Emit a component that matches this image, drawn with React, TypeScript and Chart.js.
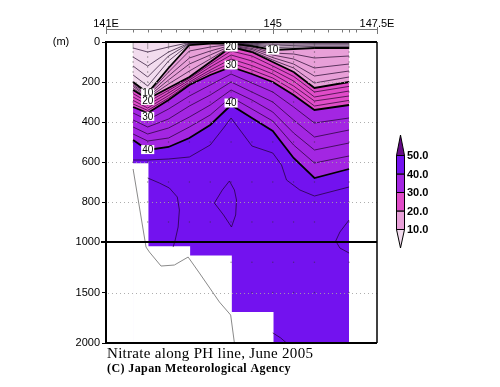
import React, { useEffect, useRef } from 'react';
import { Chart, registerables } from 'chart.js';

Chart.register(...registerables);

// ---------------- DATA ----------------
// station longitudes (deg E) of the PH line
const stationLon = [141.65, 142, 142.5, 143, 143.5, 144, 144.5, 145, 145.5, 146, 146.83];

// depth (m) of each nitrate isoline (umol/kg) at every station
const surfaceDepth = [0, 0, 0, 0, 0, 0, 0, 0, 0, 0, 0];
const iso2 = [30, 50, 25, 3, 2, 2, 3, 5, 4, 4, 4];
const iso4 = [75, 120, 50, 5, 3, 3, 6, 12, 10, 9, 9];
const iso6 = [120, 175, 70, 7, 4, 4, 10, 20, 17, 15, 15];
const iso8 = [165, 220, 95, 10, 6, 6, 14, 28, 25, 22, 22];
const iso10 = [200, 255, 130, 15, 8, 8, 20, 40, 35, 30, 30];
const iso12 = [208, 260, 150, 45, 25, 12, 25, 55, 60, 80, 70];
const iso14 = [215, 268, 170, 80, 45, 16, 32, 65, 85, 130, 110];
const iso16 = [222, 275, 190, 110, 65, 19, 38, 78, 110, 170, 145];
const iso18 = [232, 280, 210, 145, 85, 22, 45, 90, 130, 205, 175];
const iso20 = [240, 285, 230, 175, 100, 25, 50, 100, 150, 230, 200];
const iso22 = [258, 300, 242, 182, 112, 45, 70, 120, 172, 250, 222];
const iso24 = [275, 315, 255, 190, 125, 65, 95, 140, 195, 275, 245];
const iso26 = [292, 330, 268, 200, 140, 85, 118, 160, 220, 295, 270];
const iso28 = [310, 342, 280, 208, 152, 105, 140, 180, 242, 320, 292];
const iso30 = [325, 355, 290, 215, 165, 125, 160, 200, 265, 340, 315];
const iso32 = [355, 390, 335, 270, 215, 160, 205, 250, 325, 405, 380];
const iso34 = [390, 425, 385, 320, 265, 200, 250, 300, 390, 475, 440];
const iso36 = [425, 460, 430, 375, 315, 240, 290, 350, 455, 540, 505];
const iso38 = [460, 495, 480, 425, 365, 275, 335, 395, 515, 605, 570];
const iso40 = [490, 540, 525, 480, 415, 315, 380, 445, 580, 680, 635];

// deeper, irregular isolines: [lon, depth]
const deep42 = [[141.65, 590], [142, 590], [142.5, 585], [143, 575], [143.5, 515], [143.82, 430], [144, 380], [144.5, 520], [145, 555], [145.21, 615], [145.33, 690], [145.65, 740], [146, 770], [146.83, 725]];
const deep44a = [[142, 680], [142.28, 705], [142.52, 730], [142.71, 775], [142.76, 840], [142.73, 925], [142.66, 990], [142.61, 1050]];
const deep44b = [[143.6, 805], [143.79, 740], [143.96, 695], [144.08, 740], [144.13, 790], [144.11, 865], [144.01, 925], [143.82, 865], [143.6, 805]];
const deep44c = [[146.83, 890], [146.61, 950], [146.51, 995], [146.61, 1060], [146.83, 1109]];
const deep44d = [[145, 1900], [145.19, 1950], [145.33, 2000]];

// sea-bottom profile [lon, depth]
const bottomProfile = [[141.65, 635], [141.96, 1050], [142.04, 1099], [142.32, 1238], [142.64, 1228], [142.97, 1149], [143.24, 1307], [143.72, 1594], [143.99, 1723], [144.08, 2000]];

// deepest valid data in each longitude interval
const maskLon = [141.65, 142, 143, 144, 145, 146.83];
const maskBottom = [610, 1050, 1140, 1700, 2000];

// sampling depths and deepest sample of each station
const sampleDepths = [0, 10, 20, 30, 50, 75, 100, 125, 150, 200, 250, 300, 400, 500, 600, 700, 800, 900, 1000, 1200, 1500, 2000];
const stationBottom = [600, 1000, 1050, 1100, 1140, 1200, 1700, 2000, 2000, 2000, 2000];

const contourLabels = [
  { lon: 142, depth: 255, text: '10' },
  { lon: 142, depth: 292, text: '20' },
  { lon: 142, depth: 372, text: '30' },
  { lon: 142, depth: 538, text: '40' },
  { lon: 144, depth: 25, text: '20' },
  { lon: 144, depth: 115, text: '30' },
  { lon: 144, depth: 305, text: '40' },
  { lon: 145, depth: 40, text: '10' },
];

const depthTicks = [0, 200, 400, 600, 800, 1000, 1500, 2000];
const gridDepths = [200, 400, 600, 800, 1500];
const colorLevels = ['10.0', '20.0', '30.0', '40.0', '50.0'];
const bandColors = ['#f2dcee', '#e8a0d8', '#e04cc8', '#a326e2', '#7312ef'];
const overColor = '#660a88';

const topAxisMajor = [141, 145, 147.5];
const topAxisLabels = ['141E', '145', '147.5E'];
const topAxisMinor = [141.65, 142, 142.33, 142.67, 143, 143.33, 143.67, 144, 144.33, 144.67, 145.33, 145.67, 146, 146.33, 146.67, 146.83, 147];

const titleText = 'Nitrate along PH line, June 2005';
const creditText = '(C) Japan Meteorological Agency';

// ---------------- helpers ----------------
const toY = (d: number) => (d <= 1000 ? d : 1000 + (d - 1000) * 0.505);
const fromY = (v: number) => Math.round(v <= 1000 ? v : 1000 + (v - 1000) / 0.505);
const Y_MAX = toY(2000);

const stationPts = (depths: number[]) => depths.map((d, i) => ({ x: stationLon[i], y: toY(d) }));
const pairPts = (arr: number[][]) => arr.map(([lon, d]) => ({ x: lon, y: toY(d) }));

const SANS = '"Liberation Sans", Arial, sans-serif';
const SERIF = '"Liberation Serif", "Times New Roman", serif';

function buildDatasets() {
  const ds: any[] = [];
  const bands = [surfaceDepth, iso10, iso20, iso30, iso40];
  bands.forEach((depths, i) => {
    ds.push({
      data: stationPts(depths),
      borderWidth: 0,
      borderColor: 'transparent',
      backgroundColor: bandColors[i],
      fill: { value: Y_MAX },
      pointRadius: 0,
      order: 100 - i,
    });
  });
  const maskPts: number[][] = [[maskLon[0], 2000]];
  maskBottom.forEach((b, i) => {
    maskPts.push([maskLon[i], b]);
    maskPts.push([maskLon[i + 1], b]);
  });
  ds.push({
    data: pairPts(maskPts),
    borderWidth: 1.5,
    borderColor: '#ffffff',
    backgroundColor: '#ffffff',
    fill: { value: Y_MAX },
    pointRadius: 0,
    order: 60,
  });
  const thin = [iso2, iso4, iso6, iso8, iso12, iso14, iso16, iso18, iso22, iso24, iso26, iso28, iso32, iso34, iso36, iso38];
  thin.forEach((depths) => {
    ds.push({ data: stationPts(depths), borderWidth: 0.8, borderColor: 'rgba(25,0,35,0.85)', fill: false, pointRadius: 0, order: 30 });
  });
  [deep42, deep44a, deep44b, deep44c, deep44d].forEach((arr) => {
    ds.push({ data: pairPts(arr), borderWidth: 0.8, borderColor: 'rgba(25,0,35,0.85)', fill: false, pointRadius: 0, order: 30 });
  });
  [iso10, iso20, iso30, iso40].forEach((depths) => {
    ds.push({ data: stationPts(depths), borderWidth: 1.8, borderColor: '#000', fill: false, pointRadius: 0, order: 20 });
  });
  ds.push({ data: pairPts(bottomProfile), borderWidth: 1, borderColor: '#8a8a8a', fill: false, pointRadius: 0, order: 15 });
  const samples: { x: number; y: number }[] = [];
  stationLon.forEach((lon, i) => {
    sampleDepths.forEach((d) => {
      if (d <= stationBottom[i]) samples.push({ x: lon, y: toY(d) });
    });
  });
  ds.push({ data: samples, showLine: false, pointRadius: 0.7, pointBorderWidth: 0, pointBackgroundColor: 'rgba(50,50,50,0.55)', order: 10 });
  return ds;
}

const overlayPlugin = {
  id: 'overlay',
  afterDatasetsDraw(chart: any) {
    const { ctx, chartArea: ca, scales } = chart;
    const px = (lon: number) => scales.x.getPixelForValue(lon);
    const py = (d: number) => scales.y.getPixelForValue(toY(d));
    ctx.save();
    ctx.strokeStyle = 'rgba(165,165,165,0.9)';
    ctx.lineWidth = 1;
    ctx.setLineDash([1, 3]);
    gridDepths.forEach((d) => {
      const yy = Math.round(py(d)) + 0.5;
      ctx.beginPath();
      ctx.moveTo(ca.left + 2, yy);
      ctx.lineTo(ca.right, yy);
      ctx.stroke();
    });
    ctx.setLineDash([]);
    ctx.font = `10px ${SANS}`;
    ctx.textAlign = 'center';
    ctx.textBaseline = 'middle';
    contourLabels.forEach((l) => {
      const x = px(l.lon);
      const y = py(l.depth);
      const w = ctx.measureText(l.text).width + 2;
      ctx.fillStyle = '#fff';
      ctx.fillRect(x - w / 2, y - 4.5, w, 9);
      ctx.fillStyle = '#000';
      ctx.fillText(l.text, x, y + 0.5);
    });
    ctx.restore();
  },
  afterDraw(chart: any) {
    const { ctx, chartArea: ca, scales } = chart;
    const px = (lon: number) => scales.x.getPixelForValue(lon);
    const py = (d: number) => scales.y.getPixelForValue(toY(d));
    ctx.save();
    ctx.strokeStyle = '#000';
    // 1000 m line
    ctx.lineWidth = 2;
    ctx.beginPath();
    ctx.moveTo(ca.left - 5, py(1000));
    ctx.lineTo(ca.right, py(1000));
    ctx.stroke();
    // frame
    ctx.beginPath();
    ctx.moveTo(ca.left, ca.top);
    ctx.lineTo(ca.right, ca.top);
    ctx.moveTo(ca.left, ca.bottom);
    ctx.lineTo(ca.right, ca.bottom);
    ctx.stroke();
    ctx.lineWidth = 1.5;
    ctx.beginPath();
    ctx.moveTo(ca.right, ca.top);
    ctx.lineTo(ca.right, ca.bottom);
    ctx.stroke();

    // top longitude axis
    const by = ca.top - 13;
    ctx.strokeStyle = '#777';
    ctx.lineWidth = 1;
    ctx.beginPath();
    ctx.moveTo(px(topAxisMajor[0]), by + 0.5);
    ctx.lineTo(px(topAxisMajor[topAxisMajor.length - 1]), by + 0.5);
    topAxisMajor.forEach((lon) => {
      const x = Math.round(px(lon)) + 0.5;
      ctx.moveTo(x, by - 2);
      ctx.lineTo(x, by + 5);
    });
    topAxisMinor.forEach((lon) => {
      const x = Math.round(px(lon)) + 0.5;
      ctx.moveTo(x, by);
      ctx.lineTo(x, by + 3.5);
    });
    ctx.stroke();
    ctx.fillStyle = '#000';
    ctx.font = `11px ${SANS}`;
    ctx.textAlign = 'center';
    ctx.textBaseline = 'alphabetic';
    topAxisMajor.forEach((lon, i) => ctx.fillText(topAxisLabels[i], px(lon), by - 2));

    // unit label
    ctx.textBaseline = 'middle';
    ctx.fillText('(m)', 61, ca.top);

    // colour bar
    const cbL = 396;
    const cbW = 8;
    const cbBottom = 229;
    const step = 18.5;
    const yAt = (i: number) => cbBottom - i * step;
    ctx.strokeStyle = '#000';
    ctx.lineWidth = 1;
    for (let i = 0; i < colorLevels.length - 1; i++) {
      ctx.fillStyle = bandColors[i + 1];
      ctx.fillRect(cbL, yAt(i + 1), cbW, step);
      ctx.strokeRect(cbL + 0.5, yAt(i + 1) + 0.5, cbW, step);
    }
    // lower triangle
    ctx.fillStyle = bandColors[0];
    ctx.beginPath();
    ctx.moveTo(cbL + 0.5, cbBottom + 0.5);
    ctx.lineTo(cbL + cbW + 0.5, cbBottom + 0.5);
    ctx.lineTo(cbL + cbW / 2 + 0.5, cbBottom + 19);
    ctx.closePath();
    ctx.fill();
    ctx.stroke();
    // upper triangle
    const topY = yAt(colorLevels.length - 1);
    ctx.fillStyle = overColor;
    ctx.beginPath();
    ctx.moveTo(cbL + 0.5, topY + 0.5);
    ctx.lineTo(cbL + cbW + 0.5, topY + 0.5);
    ctx.lineTo(cbL + cbW / 2 + 0.5, topY - 20);
    ctx.closePath();
    ctx.fill();
    ctx.stroke();
    ctx.fillStyle = '#000';
    ctx.font = `bold 11px ${SANS}`;
    ctx.textAlign = 'left';
    ctx.textBaseline = 'middle';
    colorLevels.forEach((t, i) => ctx.fillText(t, cbL + cbW + 3, yAt(i) + 1));

    // caption
    ctx.textBaseline = 'alphabetic';
    ctx.font = `15px ${SERIF}`;
    (ctx as any).letterSpacing = '0.3px';
    ctx.fillText(titleText, ca.left + 1, 358);
    ctx.font = `bold 12px ${SERIF}`;
    (ctx as any).letterSpacing = '0.4px';
    ctx.fillText(creditText, ca.left + 1, 372);
    (ctx as any).letterSpacing = '0px';
    ctx.restore();
  },
};

export default function App() {
  const canvasRef = useRef<HTMLCanvasElement | null>(null);
  useEffect(() => {
    if (!canvasRef.current) return;
    const chart = new Chart(canvasRef.current, {
      type: 'line',
      data: { datasets: buildDatasets() },
      options: {
        animation: false,
        responsive: false,
        events: [],
        layout: { padding: { top: 42, right: 123, bottom: 44, left: 0 } },
        plugins: { legend: { display: false }, tooltip: { enabled: false } },
        elements: { line: { tension: 0 } },
        scales: {
          x: { type: 'linear', min: 141, max: 147.5, display: false },
          y: {
            type: 'linear',
            reverse: true,
            min: 0,
            max: Y_MAX,
            afterBuildTicks: (axis: any) => {
              axis.ticks = depthTicks.map((d) => ({ value: toY(d) }));
            },
            afterFit: (axis: any) => {
              axis.width = 106;
            },
            ticks: {
              autoSkip: false,
              padding: 2,
              color: '#000',
              font: { family: SANS, size: 11 },
              callback: (v: any) => String(fromY(Number(v))),
            },
            grid: { drawOnChartArea: false, drawTicks: true, tickLength: 4, tickColor: '#000', tickWidth: 1 },
            border: { display: true, color: '#000', width: 2 },
          },
        },
      } as any,
      plugins: [overlayPlugin],
    });
    return () => chart.destroy();
  }, []);
  return (
    <div style={{ position: 'fixed', left: 0, top: 0, width: 500, height: 387, background: '#fff' }}>
      <canvas ref={canvasRef} width={500} height={387} style={{ width: 500, height: 387, display: 'block' }} />
    </div>
  );
}
